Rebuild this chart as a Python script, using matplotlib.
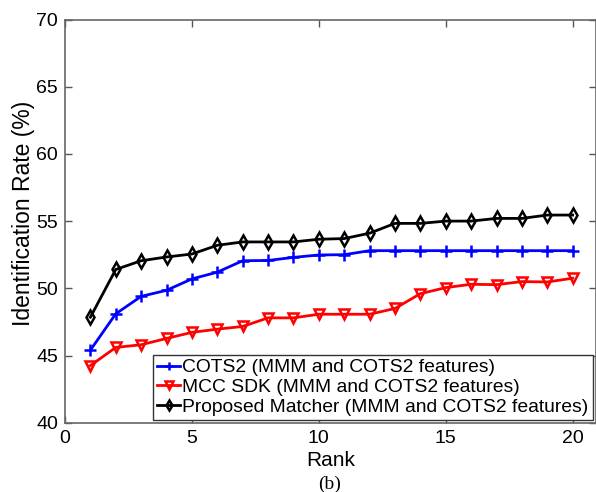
import matplotlib
matplotlib.use("Agg")
import matplotlib.pyplot as plt

rank = list(range(1, 21))
cots2 = [45.4, 48.1, 49.4, 49.85, 50.7, 51.2, 52.05, 52.07, 52.3, 52.48, 52.5, 52.8,
         52.8, 52.8, 52.8, 52.8, 52.8, 52.8, 52.8, 52.8]
mcc = [44.25, 45.6, 45.8, 46.27, 46.72, 46.96, 47.16, 47.8, 47.8, 48.07, 48.07, 48.07,
       48.5, 49.6, 50.05, 50.3, 50.27, 50.5, 50.47, 50.75]
proposed = [47.85, 51.4, 52.05, 52.33, 52.55, 53.2, 53.45, 53.45, 53.45, 53.65, 53.7, 54.1,
            54.83, 54.83, 55.0, 55.0, 55.2, 55.2, 55.45, 55.45]
labels = ["COTS2 (MMM and COTS2 features)",
          "MCC SDK (MMM and COTS2 features)",
          "Proposed Matcher (MMM and COTS2 features)"]
xticks = [0, 5, 10, 15, 20]
yticks = [40, 45, 50, 55, 60, 65, 70]

plt.rcParams['font.family'] = ['Liberation Sans', 'DejaVu Sans']

fig = plt.figure(figsize=(5.96, 4.92), dpi=100)
ax = fig.add_axes([65/596, 1-422.7/492, (595.5-65)/596, (422.7-19.5)/492])

ax.plot(rank, cots2, color='#0000ff', lw=2, marker='+', ms=9, mew=1.8, label=labels[0])
ax.plot(rank, mcc, color='#ff0000', lw=2, marker='v', ms=7.5, mew=1.8, mfc='none', label=labels[1])
ax.plot(rank, proposed, color='black', lw=2, marker='d', ms=7.5, mew=1.8, mfc='none', label=labels[2])

ax.set_xlim(0, 20.9)
ax.set_ylim(40, 70)
ax.set_xticks(xticks)
ax.set_yticks(yticks)
ax.tick_params(direction='in', top=True, right=True, labelsize=14, length=5,
               color='#555555', width=1, pad=5)
for s in ax.spines.values():
    s.set_color('#666666')
    s.set_linewidth(1.2)
ax.set_xlabel('Rank', fontsize=15, labelpad=3)
ax.set_ylabel('Identification Rate (%)', fontsize=16.5, labelpad=1)
ax.yaxis.label.set_y(0.518)

leg = ax.legend(loc='lower right', fontsize=13.9, handlelength=1.2, handletextpad=0.12,
                borderpad=0.2, labelspacing=0.12, borderaxespad=0.15, fancybox=False,
                framealpha=1, edgecolor='#333333', markerscale=0.7)
leg.get_frame().set_linewidth(1.0)

fig.text(330/596, 1-484/492, '(b)', fontsize=14, family='Liberation Serif',
         ha='center', va='center')

fig.savefig('out.png', dpi=100)
